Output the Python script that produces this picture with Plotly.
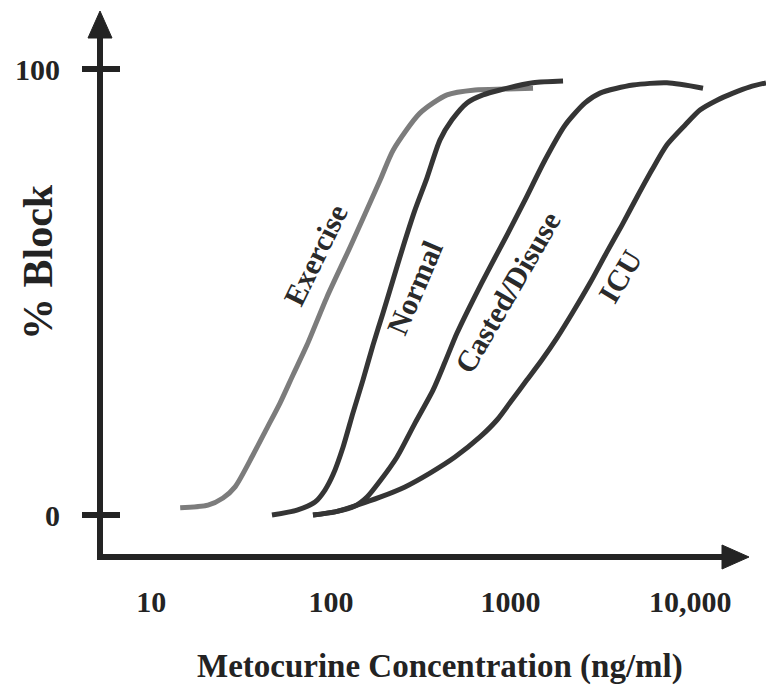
import numpy as np
import plotly.graph_objects as go

# ---------------- data ----------------
exercise_conc = [14.5, 20.7, 25.1, 29.3, 36.9, 44.1, 52.1, 61.5, 73.6, 95.1, 128, 188, 222, 313, 443, 634, 931, 1333]
exercise_block = [1.6, 2.2, 3.8, 6.3, 13.5, 19.5, 25.1, 31.4, 38.1, 48.9, 60.1, 75.1, 81.8, 90.1, 94.2, 95.3, 95.5, 95.7]

normal_conc = [47.0, 64.8, 81.6, 92.7, 102.7, 116.8, 132.7, 150.9, 171.5, 195.0, 221.6, 251.9, 293.8, 342.6,
               404.7, 472.0, 571.9, 702.2, 873.3, 1333, 1958]
normal_block = [0.0, 1.1, 2.9, 5.6, 9.0, 15.2, 22.9, 30.3, 38.1, 45.3, 52.7, 60.1, 68.4, 75.6,
                84.1, 88.6, 92.4, 94.2, 95.3, 96.9, 97.3]

casted_conc = [79.5, 105.4, 136.2, 158.8, 187.6, 233.3, 293.8, 370.0, 431.5, 503.3, 617.9, 767.9, 967.4,
               1202, 1554, 2009, 2594, 3144, 4799, 7418, 11770]
casted_block = [0.0, 0.7, 2.0, 4.0, 7.6, 13.0, 20.6, 28.0, 34.3, 40.8, 48.2, 55.6, 63.2,
                70.6, 79.6, 87.4, 92.4, 94.6, 96.4, 96.9, 95.7]

icu_conc = [79.5, 105.4, 139.7, 187.6, 258.4, 356.0, 490.5, 675.8, 839.8, 1018, 1234, 1495, 1812, 2224,
            2766, 3438, 4168, 5052, 6123, 7418, 9339, 11320, 14080, 17290, 21490, 26380]
icu_block = [0.0, 0.7, 2.2, 4.0, 6.3, 9.4, 13.0, 17.5, 21.3, 25.8, 30.3, 34.8, 39.7, 45.5,
             52.0, 59.0, 65.0, 71.3, 77.4, 83.0, 87.4, 90.8, 93.0, 94.6, 96.0, 96.9]

series_names = ["Exercise", "Normal", "Casted/Disuse", "ICU"]
series_colors = ["#7c7c7c", "#353535", "#353535", "#353535"]

x_tick_vals = [10, 100, 1000, 10000]
x_tick_text = ["10", "100", "1000", "10,000"]
y_tick_vals = [0, 100]
y_tick_text = ["0", "100"]

# label anchor positions (concentration, % block) and rotation
label_conc = [82.6, 294, 955, 4064]
label_block = [58.3, 50.9, 50.0, 53.4]
label_angle = [-64, -67, -60, -59]

x_title = "Metocurine Concentration (ng/ml)"
y_title = "% Block"

# ---------------- figure ----------------
FONT = "Liberation Serif"
INK = "#232323"

fig = go.Figure()
for xs, ys, col in zip([exercise_conc, normal_conc, casted_conc, icu_conc],
                       [exercise_block, normal_block, casted_block, icu_block],
                       series_colors):
    fig.add_trace(go.Scatter(x=xs, y=ys, mode="lines",
                             line=dict(color=col, width=5, shape="spline", smoothing=0.7),
                             showlegend=False, hoverinfo="skip"))

W, H = 766, 685
ML, MR, MT, MB = 100, 0, 10, 128
pw, ph = W - ML - MR, H - MT - MB


def px(xp):
    return (xp - ML) / pw


def py(yp):
    return (H - MB - yp) / ph


shapes = []
# axis lines
shapes.append(dict(type="line", xref="paper", yref="paper", x0=px(97), x1=px(728), y0=0, y1=0,
                   line=dict(color=INK, width=6)))
shapes.append(dict(type="line", xref="paper", yref="paper", x0=0, x1=0, y0=py(560), y1=py(34),
                   line=dict(color=INK, width=6)))
# arrow heads
shapes.append(dict(type="path", xref="paper", yref="paper",
                   path=f"M {px(749)} 0 L {px(722)} {12/ph} L {px(722)} {-12/ph} Z",
                   fillcolor=INK, line=dict(color=INK, width=1)))
shapes.append(dict(type="path", xref="paper", yref="paper",
                   path=f"M 0 {py(11)} L {12/pw} {py(38)} L {-12/pw} {py(38)} Z",
                   fillcolor=INK, line=dict(color=INK, width=1)))
# tick marks
for v in x_tick_vals:
    shapes.append(dict(type="line", xref="x", yref="paper", x0=np.log10(v), x1=np.log10(v),
                       y0=py(573), y1=py(542), line=dict(color=INK, width=7)))
for v in y_tick_vals:
    shapes.append(dict(type="line", xref="paper", yref="y", x0=px(82), x1=px(120), y0=v, y1=v,
                       line=dict(color=INK, width=6)))

annotations = []
for name, c, b, a in zip(series_names, label_conc, label_block, label_angle):
    annotations.append(dict(x=np.log10(c), y=b, xref="x", yref="y", text=name, showarrow=False,
                            xanchor="center", yanchor="middle",
                            textangle=a, font=dict(family=FONT, size=30, color="#2a2a2a", weight="bold")))
annotations.append(dict(x=px(440), y=py(666), xref="paper", yref="paper", text=x_title, showarrow=False,
                        xanchor="center", yanchor="middle",
                        font=dict(family=FONT, size=33, color=INK, weight="bold")))
annotations.append(dict(x=px(38), y=py(262), xref="paper", yref="paper", text=y_title, showarrow=False,
                        xanchor="center", yanchor="middle",
                        textangle=-90, font=dict(family=FONT, size=42, color=INK, weight="bold")))

fig.update_layout(
    width=W, height=H,
    margin=dict(l=ML, r=MR, t=MT, b=MB),
    paper_bgcolor="white", plot_bgcolor="white",
    shapes=shapes, annotations=annotations,
    xaxis=dict(type="log", range=[0.7151, 4.4213], tickvals=x_tick_vals, ticktext=x_tick_text,
               ticks="", showgrid=False, zeroline=False, showline=False, ticklabelstandoff=24,
               tickfont=dict(family=FONT, size=30, color=INK, weight="bold")),
    yaxis=dict(range=[-9.417, 113.23], tickvals=y_tick_vals, ticktext=y_tick_text,
               ticks="", showgrid=False, zeroline=False, showline=False, ticklabelstandoff=39,
               tickfont=dict(family=FONT, size=30, color=INK, weight="bold")),
)

fig.write_html("out.html")
